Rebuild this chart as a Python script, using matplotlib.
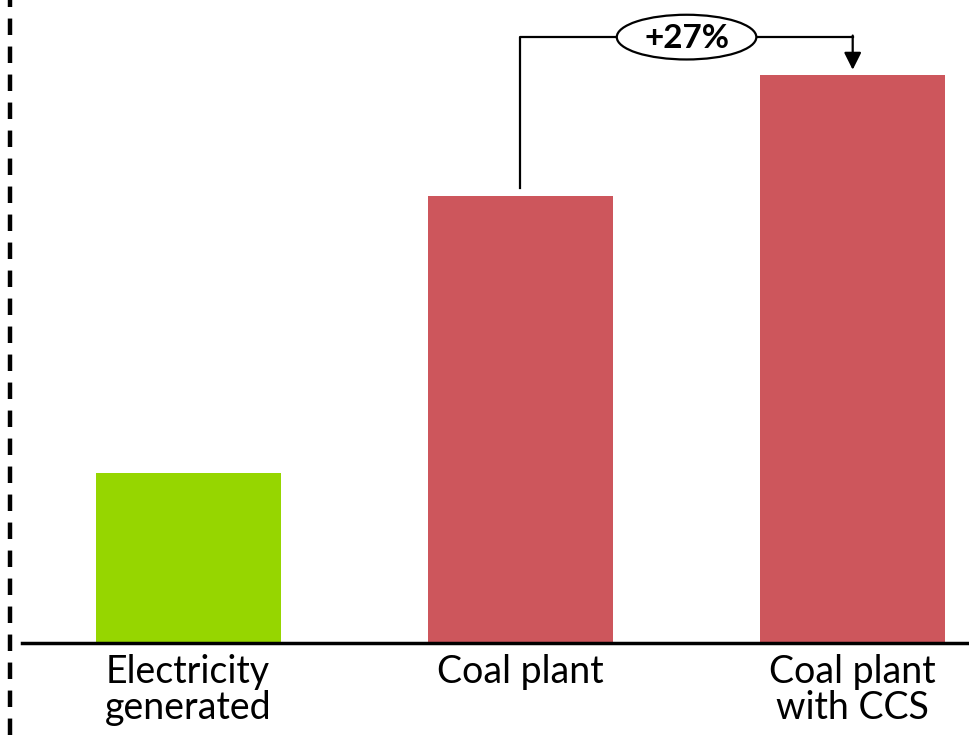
import matplotlib.pyplot as plt
from matplotlib.lines import Line2D
from matplotlib.patches import Ellipse

categories = ['Electricity\ngenerated', 'Coal plant', 'Coal plant\nwith CCS']
values = [38, 100, 127]
colors = ['#96d600', '#cd565c', '#cd565c']
change_label = '+27%'

plt.rcParams['font.family'] = ['Lato', 'DejaVu Sans']

fig = plt.figure(figsize=(9.69, 7.35), dpi=100)
ax = fig.add_axes([22 / 969, 92 / 735, 947 / 969, 643 / 735])

x = range(len(categories))
ax.bar(x, values, width=0.556, color=colors, zorder=2)

ax.set_xlim(-0.5, 2.35)
ax.set_ylim(0, 143.8)
ax.set_yticks([])
ax.set_xticks(list(x))
ax.set_xticklabels(categories, fontsize=27, linespacing=1.0)
ax.tick_params(axis='x', length=0, pad=8)
for s in ['top', 'right', 'left']:
    ax.spines[s].set_visible(False)
ax.spines['bottom'].set_linewidth(2.5)

# bracket showing the increase
y_top = 135.5
ax.plot([1, 1, 2], [values[1] + 1.8, y_top, y_top], color='black', lw=1.6, zorder=3)
ax.annotate('', xy=(2, values[2] + 1.2), xytext=(2, y_top + 0.35),
            arrowprops=dict(arrowstyle='-|>', color='black', lw=1.6,
                            mutation_scale=26, shrinkA=0, shrinkB=0))
mid = 1.5
ax.add_patch(Ellipse((mid, y_top), width=0.42, height=10, facecolor='white',
                     edgecolor='black', lw=1.6, zorder=4))
ax.text(mid, y_top - 0.2, change_label, ha='center', va='center', fontsize=24,
        fontweight='bold', zorder=5)

# dashed separator on the left
fig.add_artist(Line2D([10 / 969, 10 / 969], [0, 1], transform=fig.transFigure,
                      color='black', lw=3.2, linestyle=(0, (3.7, 2.6))))

fig.savefig('out.png', dpi=100)
